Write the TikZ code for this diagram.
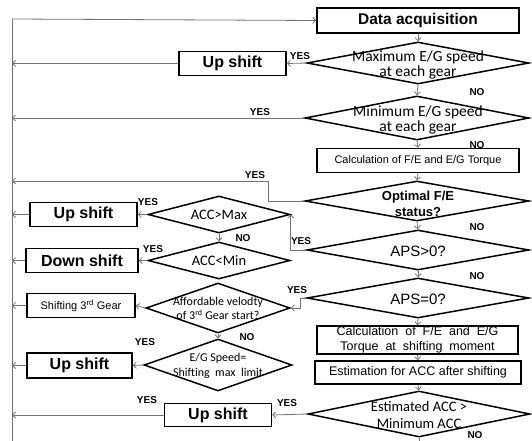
\documentclass[tikz,border=0pt]{standalone}
\usepackage{fontspec}
\setmainfont{Liberation Sans}
\newfontfamily\narrowfont{Carlito}
\usetikzlibrary{shapes.geometric,arrows.meta}
\newcommand\fData{\fontsize{15.5}{17}\selectfont\bfseries}
\newcommand\fUp{\fontsize{16}{18}\selectfont\bfseries}
\newcommand\fCalc{\fontsize{11}{13}\selectfont}
\newcommand\fCalcB{\fontsize{12.5}{15}\selectfont}
\newcommand\fEst{\fontsize{12.5}{14}\selectfont}
\newcommand\fSm{\fontsize{11}{12}\selectfont}
\newcommand\fOpt{\fontsize{13}{16}\selectfont\bfseries}
\newcommand\fAps{\fontsize{15}{18}\selectfont}
\newcommand\fNarA{\narrowfont\fontsize{15.5}{15.5}\selectfont}
\newcommand\fNarB{\narrowfont\fontsize{14.5}{16}\selectfont}
\newcommand\fNarC{\narrowfont\fontsize{12}{14.5}\selectfont}
\newcommand\fNarD{\narrowfont\fontsize{14.5}{16.5}\selectfont}
\newcommand\fLab{\fontsize{10}{12}\selectfont\bfseries}
\begin{document}
\begin{tikzpicture}[x=1pt,y=-1pt,
  box/.style={draw,line width=1.5pt,inner sep=0pt,align=center},
  dia/.style={diamond,draw,line width=1.5pt,inner sep=0pt},
  dtxt/.style={align=center,inner sep=0pt},
  conn/.style={draw=black!55,line width=0.8pt},
  arr/.style={conn,-{Straight Barb[length=3pt,width=6pt]}},
  lab/.style={font=\fLab,inner sep=0pt}]
\useasboundingbox (0,0) rectangle (532,441);

% main column
\node[box,minimum width=202pt,minimum height=25pt,font=\fData] (data) at (418,20.5) {Data acquisition};
\node[dia,minimum width=222pt,minimum height=42pt] (d1) at (418,63) {};
\node[dtxt,font=\fNarA] (d1t) at (418,65) {Maximum E/G speed\\at each gear};
\node[dia,minimum width=224pt,minimum height=44pt] (d2) at (417,118) {};
\node[dtxt,font=\fNarA] (d2t) at (418,120) {Minimum E/G speed\\at each gear};
\node[box,minimum width=202pt,minimum height=24pt,font=\fCalc] (c1) at (418,160.5) {Calculation of F/E and E/G Torque};
\node[dia,minimum width=224pt,minimum height=40pt] (d3) at (417,201) {};
\node[dtxt,font=\fOpt] (d3t) at (418,203.5) {Optimal F/E\\status?};
\node[dia,minimum width=222pt,minimum height=40pt] (d4) at (418,250) {};
\node[dtxt,font=\fAps] (d4t) at (418,251) {APS>0?};
\node[dia,minimum width=222pt,minimum height=40pt] (d5) at (418,298) {};
\node[dtxt,font=\fAps] (d5t) at (418,299) {APS=0?};
\node[box,minimum width=201pt,minimum height=28pt,font=\fCalcB] (c2) at (417.5,340) {Calculation\ \ of\ \ F/E\ \ and\ \ E/G\\Torque\ \ at\ \ shifting\ \ moment};
\node[box,minimum width=206pt,minimum height=23pt,font=\fEst] (est) at (418,372.5) {Estimation\ for\ ACC\ after\ shifting};
\node[dia,minimum width=222pt,minimum height=46pt] (d6) at (419,414) {};
\node[dtxt,font=\fNarD] (d6t) at (419,415) {Estimated ACC >\\Minimum ACC};

% side boxes
\node[box,minimum width=107pt,minimum height=24pt,font=\fUp] (u1) at (232.5,63.5) {Up shift};
\node[box,minimum width=107pt,minimum height=23pt,font=\fUp] (u4) at (218,415) {Up shift};

% left cluster
\node[dia,minimum width=142pt,minimum height=37pt] (amax) at (219,214.5) {};
\node[dtxt,font=\fNarB] (amaxt) at (219,214.5) {ACC>Max};
\node[box,minimum width=107pt,minimum height=24pt,font=\fUp] (u2) at (83.5,214.5) {Up shift};
\node[dia,minimum width=142pt,minimum height=37pt] (amin) at (219,260.5) {};
\node[dtxt,font=\fNarB] (amint) at (219,260.5) {ACC<Min};
\node[box,minimum width=112pt,minimum height=24pt,font=\fUp] (dn) at (82,260.5) {Down shift};
\node[dia,minimum width=144pt,minimum height=50pt] (aff) at (218,308) {};
\node[dtxt,font=\fNarC] (afft) at (218,308.5) {Affordable velodty\\of 3\textsuperscript{rd} Gear start?};
\node[box,minimum width=108pt,minimum height=24pt,font=\fSm] (s3) at (81,305.5) {Shifting 3\textsuperscript{rd} Gear};
\node[dia,minimum width=148pt,minimum height=52pt] (egs) at (218,365) {};
\node[dtxt,font=\fNarC] (egst) at (218,366) {E/G Speed=\\Shifting\ \ max\ \ limit};
\node[box,minimum width=105pt,minimum height=25pt,font=\fUp] (u3) at (79.5,365.5) {Up shift};

% rail
\coordinate (Ltop) at (12,19);
\coordinate (Lbot) at (12,442);
\coordinate (L3) at (12,181);
\coordinate (d3k) at (268,201);
\coordinate (d5k) at (300,298);
\draw[conn] (Ltop) -- (Lbot);
\draw[arr] (Ltop) -- (data.west);

% main flow
\draw[arr] (data.south) -- (d1.north);
\draw[arr] (d1.south) -- (d2.north);
\draw[arr] (d2.south) -- (c1.north);
\draw[arr] (c1.south) -- (d3.north);
\draw[arr] (d3.south) -- (d4.north);
\draw[arr] (d4.south) -- (d5.north);
\draw[arr] (d5.south) -- (c2.north);
\draw[arr] (c2.south) -- (est.north);
\draw[arr] (est.south) -- (d6.north);
\draw[conn] (d6.south) -- (d6.south |- Lbot);

% yes branches
\draw[arr] (d1.west) -- (u1.east);
\draw[arr] (u1.west) -- (u1.west -| Ltop);
\draw[arr] (d2.west) -- (d2.west -| Ltop);
\draw[arr] (d3.west) -- (d3k) |- (L3);
\draw[arr] (d4.west) -| (amax.east);
\draw[arr] (d5.west) -- (d5k) |- (aff.east);
\draw[arr] (d6.west) -- (u4.east);
\draw[arr] (u4.west) -- (u4.west -| Ltop);

\draw[arr] (amax.west) -- (u2.east);
\draw[arr] (u2.west) -- (u2.west -| Ltop);
\draw[arr] (amax.south) -- (amin.north);
\draw[arr] (amin.west) -- (dn.east);
\draw[arr] (dn.west) -- (dn.west -| Ltop);
\draw[arr] (aff.west) -- (s3.east);
\draw[arr] (s3.west) -- (s3.west -| Ltop);
\draw[arr] (aff.south) -- (egs.north);
\draw[arr] (egs.west) -- (u3.east);
\draw[arr] (u3.west) -- (u3.west -| Ltop);

% labels
\node[lab] at (300,56) {YES};
\node[lab] at (477,92) {NO};
\node[lab] at (260,112) {YES};
\node[lab] at (477,145) {NO};
\node[lab] at (255,175) {YES};
\node[lab] at (477,227) {NO};
\node[lab] at (301,241) {YES};
\node[lab] at (477,276) {NO};
\node[lab] at (148,202) {YES};
\node[lab] at (243,238) {NO};
\node[lab] at (153,249) {YES};
\node[lab] at (297,290) {YES};
\node[lab] at (247,337) {NO};
\node[lab] at (145,342) {YES};
\node[lab] at (147,400) {YES};
\node[lab] at (287,403) {YES};
\node[lab] at (475,435) {NO};
\end{tikzpicture}
\end{document}
